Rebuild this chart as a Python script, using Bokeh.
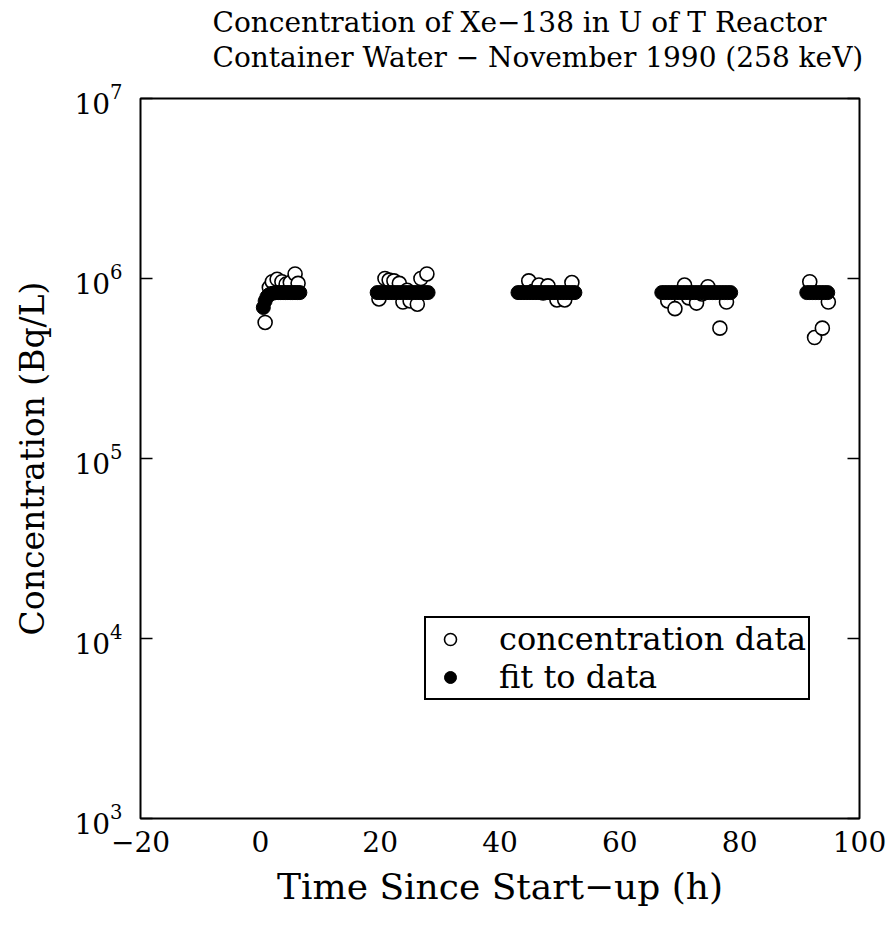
from bokeh.plotting import figure
from bokeh.models import (FixedTicker, LogAxis, Title, Legend, LegendItem, LogTicker)
from bokeh.embed import file_html
from bokeh.resources import INLINE

# ---- data ----
data_t = [0.8, 1.5, 2.0, 2.8, 3.6, 4.3, 5.0, 5.8, 6.3,
          19.8, 20.8, 21.5, 22.3, 23.2, 23.8, 24.5, 25.0, 26.2, 26.8, 27.8,
          44.8, 45.5, 46.5, 47.2, 48.0, 49.5, 50.8, 52.0,
          68.0, 69.2, 70.8, 71.5, 72.8, 73.7, 74.7, 76.7, 77.8,
          91.7, 92.5, 93.8, 94.8]
data_c = [5.7e5, 8.9e5, 9.6e5, 9.9e5, 9.6e5, 9.3e5, 9.5e5, 1.06e6, 9.4e5,
          7.7e5, 1.0e6, 9.8e5, 9.7e5, 9.4e5, 7.4e5, 8.6e5, 7.5e5, 7.2e5, 1.0e6, 1.06e6,
          9.7e5, 8.5e5, 9.2e5, 8.3e5, 9.1e5, 7.6e5, 7.6e5, 9.5e5,
          7.5e5, 6.8e5, 9.2e5, 7.8e5, 7.3e5, 8.2e5, 9.0e5, 5.3e5, 7.4e5,
          9.6e5, 4.7e5, 5.3e5, 7.4e5]

fit_t = [0.5, 0.8, 1.1, 1.4, 1.8, 2.2, 2.6, 3.0, 3.4, 3.8, 4.2, 4.6, 5.0, 5.4, 5.8, 6.2, 6.6,
         19.5, 20.0, 20.5, 21.0, 21.5, 22.0, 22.5, 23.0, 23.5, 24.0, 24.5, 25.0, 25.5, 26.0, 26.5, 27.0, 27.5, 28.0,
         43.0, 43.5, 44.0, 44.5, 45.0, 45.5, 46.0, 46.5, 47.0, 47.5, 48.0, 48.5, 49.0, 49.5, 50.0, 50.5, 51.0, 51.5, 52.0, 52.5,
         67.0, 67.5, 68.0, 68.5, 69.0, 69.5, 70.0, 70.5, 71.0, 71.5, 72.0, 72.5, 73.0, 73.5, 74.0, 74.5, 75.0, 75.5, 76.0, 76.5, 77.0, 77.5, 78.0, 78.5,
         91.2, 91.7, 92.2, 92.7, 93.2, 93.7, 94.2, 94.7]
fit_c = [6.9e5, 7.5e5, 7.9e5, 8.1e5, 8.25e5, 8.3e5, 8.35e5, 8.35e5, 8.35e5, 8.35e5, 8.35e5, 8.35e5, 8.35e5, 8.35e5, 8.35e5, 8.35e5, 8.35e5,
         8.35e5, 8.35e5, 8.35e5, 8.35e5, 8.35e5, 8.35e5, 8.35e5, 8.35e5, 8.35e5, 8.35e5, 8.35e5, 8.35e5, 8.35e5, 8.35e5, 8.35e5, 8.35e5, 8.35e5, 8.35e5,
         8.35e5, 8.35e5, 8.35e5, 8.35e5, 8.35e5, 8.35e5, 8.35e5, 8.35e5, 8.35e5, 8.35e5, 8.35e5, 8.35e5, 8.35e5, 8.35e5, 8.35e5, 8.35e5, 8.35e5, 8.35e5, 8.35e5, 8.35e5,
         8.35e5, 8.35e5, 8.35e5, 8.35e5, 8.35e5, 8.35e5, 8.35e5, 8.35e5, 8.35e5, 8.35e5, 8.35e5, 8.35e5, 8.35e5, 8.35e5, 8.35e5, 8.35e5, 8.35e5, 8.35e5, 8.35e5, 8.35e5, 8.35e5, 8.35e5, 8.35e5, 8.35e5,
         8.35e5, 8.35e5, 8.35e5, 8.35e5, 8.35e5, 8.35e5, 8.35e5, 8.35e5]

x_ticks = [-20, 0, 20, 40, 60, 80, 100]
x_tick_labels = ["\u221220", "0", "20", "40", "60", "80", "100"]

title_1 = "Concentration of Xe\u2212138 in U of T Reactor"
title_2 = "Container Water \u2212 November 1990 (258 keV)"
x_label = "Time Since Start\u2212up (h)"
y_label = "Concentration (Bq/L)"
legend_labels = ["concentration data", "fit to data"]

FONT = "DejaVu Serif"

p = figure(width=892, height=932, y_axis_type="log",
           x_range=(-20, 100), y_range=(1e3, 1e7),
           output_backend="svg", toolbar_location=None,
           min_border_left=140, min_border_right=33,
           min_border_bottom=114, min_border_top=98)
p.title.text = ""
p.title.text_font_size = "1px"
p.title.standoff = 0
p.background_fill_color = "white"
p.border_fill_color = "white"
p.outline_line_color = "black"
p.outline_line_width = 2
p.xgrid.grid_line_color = None
p.ygrid.grid_line_color = None

# spacer between frame and title block, then the two title lines
p.add_layout(Title(text=" ", text_font_size="10px", standoff=12), "above")
p.add_layout(Title(text=title_2, align="left", offset=72, text_font=FONT,
                   text_font_size="28px", text_font_style="normal",
                   text_color="black", standoff=0), "above")
p.add_layout(Title(text=title_1, align="left", offset=72, text_font=FONT,
                   text_font_size="28px", text_font_style="normal",
                   text_color="black", standoff=0), "above")

# x axis
xa = p.xaxis[0]
xa.ticker = FixedTicker(ticks=x_ticks)
xa.major_label_overrides = {t: l for t, l in zip(x_ticks, x_tick_labels)}
xa.axis_line_color = None
xa.major_tick_line_color = None
xa.minor_tick_line_color = None
xa.major_label_text_font = FONT
xa.major_label_text_font_size = "28px"
xa.major_label_text_color = "black"
xa.major_label_standoff = 6
xa.axis_label = x_label
xa.axis_label_text_font = FONT
xa.axis_label_text_font_size = "36px"
xa.axis_label_text_font_style = "normal"
xa.axis_label_text_color = "black"
xa.axis_label_standoff = 11

# y axis
ya = p.yaxis[0]
ya.axis_line_color = None
ya.major_tick_in = 12
ya.major_tick_out = 0
ya.major_tick_line_width = 1.5
ya.minor_tick_line_color = None
ya.major_label_text_font = FONT
ya.major_label_text_font_size = "28px"
ya.major_label_text_color = "black"
ya.major_label_standoff = 14
ya.axis_label = y_label
ya.axis_label_text_font = FONT
ya.axis_label_text_font_size = "33px"
ya.axis_label_text_font_style = "normal"
ya.axis_label_text_color = "black"
ya.axis_label_standoff = 19

ra = LogAxis(axis_line_color=None, major_tick_in=12, major_tick_out=0,
             major_tick_line_width=1.5, minor_tick_line_color=None,
             major_label_text_color=None, major_label_text_font_size="2px",
             major_label_standoff=0, ticker=LogTicker())
p.add_layout(ra, "right")

r_data = p.scatter(data_t, data_c, marker="circle", size=14,
                   fill_color="white", line_color="black", line_width=1.6)
r_fit = p.scatter(fit_t, fit_c, marker="circle", size=14,
                  fill_color="black", line_color="black")

legend = Legend(items=[LegendItem(label=legend_labels[0], renderers=[r_data]),
                       LegendItem(label=legend_labels[1], renderers=[r_fit])],
                location=(284, 118), label_text_font=FONT,
                label_text_font_size="32px", label_text_color="black",
                border_line_color="black", border_line_alpha=1,
                border_line_width=2, background_fill_alpha=1,
                glyph_width=44, glyph_height=30, spacing=0,
                padding=2, margin=0, label_standoff=27)
p.add_layout(legend, "center")

open("out.html", "w").write(file_html(p, INLINE))
